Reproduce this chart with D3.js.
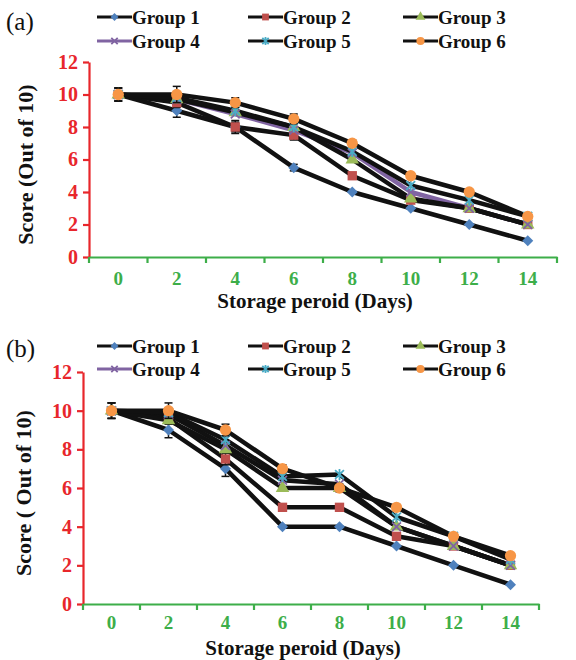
<!DOCTYPE html>
<html>
<head>
<meta charset="utf-8">
<script src="https://cdn.jsdelivr.net/npm/d3@7"></script>
<style>
  body { margin: 0; background: #fff; }
</style>
</head>
<body>
<svg id="chart" width="576" height="660"></svg>
<script>
// Storage days (x categories) and y ticks
const days = ["0", "2", "4", "6", "8", "10", "12", "14"];
const yTicks = [0, 2, 4, 6, 8, 10, 12];
const groupNames = ["Group 1", "Group 2", "Group 3", "Group 4", "Group 5", "Group 6"];

// panel (a) scores
const a1 = [10, 9.0, 8.0, 5.5, 4.0, 3.0, 2.0, 1.0];
const a2 = [10, 9.5, 8.0, 7.5, 5.0, 3.5, 3.0, 2.0];
const a3 = [10, 9.7, 8.9, 8.0, 6.0, 3.6, 3.0, 2.0];
const a4 = [10, 9.7, 8.8, 7.8, 6.4, 4.0, 3.0, 2.0];
const a5 = [10, 9.8, 9.0, 8.0, 6.5, 4.4, 3.5, 2.5];
const a6 = [10, 10, 9.5, 8.5, 7.0, 5.0, 4.0, 2.5];
// panel (a) error bars
const ea1 = [0.4, 0.4, 0.3, 0.2, 0.1, 0.1, 0.1, 0.1];
const ea2 = [0.4, 0.3, 0.4, 0.3, 0.1, 0.1, 0.1, 0.1];
const ea6 = [0.4, 0.5, 0.3, 0.3, 0.2, 0.1, 0.1, 0.1];

// panel (b) scores
const b1 = [10, 9.0, 7.0, 4.0, 4.0, 3.0, 2.0, 1.0];
const b2 = [10, 9.6, 7.5, 5.0, 5.0, 3.5, 3.0, 2.0];
const b3 = [10, 9.5, 8.0, 6.0, 6.0, 4.0, 3.0, 2.0];
const b4 = [10, 9.8, 8.2, 6.4, 6.2, 4.0, 3.0, 2.0];
const b5 = [10, 9.9, 8.5, 6.6, 6.7, 4.5, 3.5, 2.3];
const b6 = [10, 10, 9.0, 7.0, 6.0, 5.0, 3.5, 2.5];
// panel (b) error bars
const eb1 = [0.4, 0.4, 0.4, 0.1, 0.1, 0.1, 0.1, 0.1];
const eb2 = [0.4, 0.3, 0.3, 0.1, 0.1, 0.1, 0.1, 0.1];
const eb6 = [0.4, 0.4, 0.3, 0.2, 0.2, 0.1, 0.1, 0.1];
const zeros = [0, 0, 0, 0, 0, 0, 0, 0];

const markerFill = ["#4F81BD", "#C0504D", "#9BBB59", "#8064A2", "#4BACC6", "#F79646"];
const legendLine = ["#111", "#111", "#111", "#8064A2", "#111", "#111"];
const FONT = "Liberation Serif";

const svg = d3.select("#chart");

function markerPath(i, r) {
    if (i === 0) return `M0,${-r}L${r},0L0,${r}L${-r},0Z`;
    if (i === 1) return `M${-r * 0.85},${-r * 0.85}H${r * 0.85}V${r * 0.85}H${-r * 0.85}Z`;
    if (i === 2) return d3.symbol(d3.symbolTriangle, r * r * 2.6)();
    if (i === 5) return d3.symbol(d3.symbolCircle, r * r * 3.3)();
    const k = r * 0.8;
    let p = `M${-k},${-k}L${k},${k}M${-k},${k}L${k},${-k}`;
    if (i === 4) p += `M0,${-r}L0,${r}`;
    return p;
}

function styleMarker(sel, i) {
    const hollow = i === 3 || i === 4;
    sel.attr("fill", hollow ? "none" : markerFill[i])
        .attr("stroke", hollow ? markerFill[i] : "none")
        .attr("stroke-width", 1.8);
}

function AddLegend(g, x0, y0, rowGap) {
    const colX = [x0, x0 + 151, x0 + 306];
    groupNames.forEach((name, i) => {
        const cx = colX[i % 3], cy = y0 + Math.floor(i / 3) * rowGap;
        g.append("line")
            .attr("x1", cx).attr("x2", cx + 35)
            .attr("y1", cy).attr("y2", cy)
            .attr("stroke", legendLine[i]).attr("stroke-width", 3);
        g.append("path")
            .attr("d", markerPath(i, 4))
            .attr("transform", `translate(${cx + 17.5},${cy})`)
            .call(styleMarker, i);
        g.append("text")
            .attr("x", cx + 35).attr("y", cy)
            .attr("dy", "0.35em")
            .style("font", `bold 19px "${FONT}"`)
            .attr("fill", "#111")
            .text(name);
    });
}

function drawPanel(cfg) {
    const g = svg.append("g");
    const x = d3.scaleBand().domain(days).range([cfg.left, cfg.right]);
    const y = d3.scaleLinear().domain([0, 12]).range([cfg.bottom, cfg.top]);

    const yAxis = g.append("g")
        .attr("transform", `translate(${cfg.left},0)`)
        .call(d3.axisLeft(y).tickValues(yTicks).tickSize(6).tickPadding(5).tickSizeOuter(0));
    yAxis.select(".domain").attr("stroke", "#E8262B").attr("stroke-width", 2.2);
    yAxis.selectAll(".tick line").attr("stroke", "#E8262B").attr("stroke-width", 2.2);
    yAxis.selectAll(".tick text")
        .attr("fill", "#E8262B")
        .style("font", `bold 20px "${FONT}"`);

    const xAxis = g.append("g")
        .attr("transform", `translate(0,${cfg.bottom})`)
        .call(d3.axisBottom(x).tickSize(0).tickPadding(cfg.xPad));
    xAxis.select(".domain").attr("stroke", "#3DAE49").attr("stroke-width", 2.2);
    xAxis.selectAll(".tick text")
        .attr("fill", "#3DAE49")
        .style("font", `bold 19px "${FONT}"`);
    // tick marks at category boundaries
    g.append("g").selectAll("line")
        .data(d3.range(days.length + 1))
        .join("line")
        .attr("x1", i => cfg.left + i * x.step())
        .attr("x2", i => cfg.left + i * x.step())
        .attr("y1", cfg.bottom).attr("y2", cfg.bottom + 6)
        .attr("stroke", "#3DAE49").attr("stroke-width", 2.2);

    const cx = d => x(d) + x.bandwidth() / 2;
    const line = d3.line()
        .x((v, j) => cx(days[j]))
        .y(v => y(v));

    cfg.order.forEach(i => {
        g.append("path")
            .attr("fill", "none")
            .attr("stroke", cfg.lineColor[i])
            .attr("stroke-width", 4.5)
            .attr("stroke-linejoin", "round")
            .attr("d", line(cfg.series[i]));
    });

    cfg.series.forEach((s, i) => {
        const err = cfg.errors[i];
        const eg = g.append("g").attr("stroke", "#111").attr("stroke-width", 1.5);
        s.forEach((v, j) => {
            if (err[j] < 0.2) return;
            const px = cx(days[j]);
            eg.append("line").attr("x1", px).attr("x2", px)
                .attr("y1", y(v - err[j])).attr("y2", y(v + err[j]));
            [v - err[j], v + err[j]].forEach(e =>
                eg.append("line").attr("x1", px - 4).attr("x2", px + 4)
                    .attr("y1", y(e)).attr("y2", y(e)));
        });
        g.append("g").selectAll("path")
            .data(s)
            .join("path")
            .attr("d", markerPath(i, 5.5))
            .attr("transform", (v, j) => `translate(${cx(days[j])},${y(v)})`)
            .call(styleMarker, i);
    });

    g.append("text")
        .attr("x", (cfg.left + cfg.right) / 2 - 8).attr("y", cfg.xTitleY)
        .attr("text-anchor", "middle").attr("fill", "#111")
        .style("font", `bold 21px "${FONT}"`)
        .text("Storage peroid (Days)");
    g.append("text")
        .attr("transform", `translate(${cfg.yTitleX},${(cfg.top + cfg.bottom) / 2 + 5}) rotate(-90)`)
        .attr("text-anchor", "middle").attr("fill", "#111")
        .style("font", `bold 22px "${FONT}"`)
        .text(cfg.yTitle);
    g.append("text")
        .attr("x", 6).attr("y", cfg.labelY)
        .attr("fill", "#111")
        .style("font", `normal 25px "${FONT}"`)
        .text(cfg.label);

    AddLegend(g, 97, cfg.legendY, cfg.legendGap);
}

drawPanel({
    left: 89, right: 557, top: 62, bottom: 257,
    series: [a1, a2, a3, a4, a5, a6],
    errors: [ea1, ea2, zeros, zeros, zeros, ea6],
    lineColor: ["#111", "#111", "#111", "#8064A2", "#111", "#111"],
    order: [3, 0, 1, 2, 4, 5],
    xPad: 15, xTitleY: 308, yTitleX: 33, yTitle: "Score (Out of 10)",
    label: "(a)", labelY: 30, legendY: 17, legendGap: 24
});

drawPanel({
    left: 83, right: 539, top: 372, bottom: 604,
    series: [b1, b2, b3, b4, b5, b6],
    errors: [eb1, eb2, zeros, zeros, zeros, eb6],
    lineColor: ["#111", "#111", "#111", "#111", "#111", "#111"],
    order: [3, 0, 1, 2, 4, 5],
    xPad: 12, xTitleY: 655, yTitleX: 31, yTitle: "Score ( Out of 10)",
    label: "(b)", labelY: 357, legendY: 346, legendGap: 23
});
</script>
</body>
</html>
